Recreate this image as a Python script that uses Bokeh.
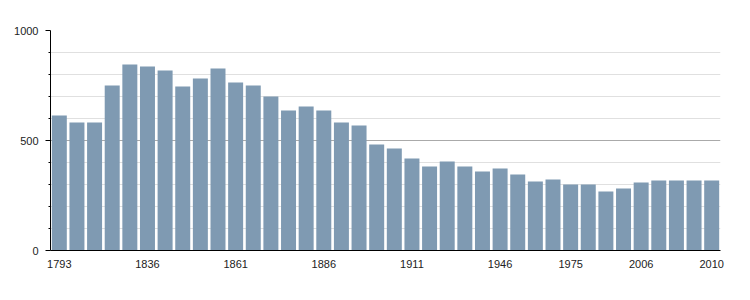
from bokeh.plotting import figure
from bokeh.models import Range1d, FixedTicker, ColumnDataSource
from bokeh.embed import file_html
from bokeh.resources import INLINE

years = [1793, 1800, 1806, 1821, 1831, 1836, 1841, 1846, 1851, 1856,
         1861, 1866, 1872, 1876, 1881, 1886, 1891, 1896, 1901, 1906,
         1911, 1921, 1926, 1931, 1936, 1946, 1954, 1962, 1968, 1975,
         1982, 1990, 1999, 2006, 2007, 2008, 2009, 2010]
population = [614, 582, 582, 750, 845, 836, 818, 745, 782, 827,
              764, 750, 700, 636, 655, 636, 582, 568, 482, 464,
              418, 382, 405, 382, 359, 373, 345, 314, 323, 300,
              300, 268, 282, 309, 318, 318, 318, 318]
labelled_years = [1793, 1836, 1861, 1886, 1911, 1946, 1975, 2006, 2010]
y_major = [0, 500, 1000]
y_minor = [100, 200, 300, 400, 600, 700, 800, 900]

idx = list(range(len(years)))
src = ColumnDataSource(data=dict(x=idx, pop=population, year=[str(y) for y in years]))

p = figure(width=750, height=300, output_backend="svg", toolbar_location=None,
           x_range=Range1d(-0.5, len(years) - 0.5), y_range=Range1d(0, 1000),
           min_border_left=50, min_border_right=30, min_border_top=30, min_border_bottom=50)
p.outline_line_color = None
p.background_fill_color = "white"
p.border_fill_color = "white"

p.vbar(x="x", top="pop", width=0.85, bottom=0, source=src,
       fill_color="#7f9ab2", line_color=None)

font = "Liberation Sans"

# x axis
tick_pos = [years.index(y) for y in labelled_years]
p.xaxis.ticker = FixedTicker(ticks=tick_pos)
p.xaxis.major_label_overrides = {i: str(years[i]) for i in tick_pos}
p.xaxis.major_tick_line_color = None
p.xaxis.minor_tick_line_color = None
p.xaxis.axis_line_color = "black"
p.xaxis.major_label_text_font = font
p.xaxis.major_label_text_font_size = "11px"
p.xaxis.major_label_text_color = "#222222"
p.xaxis.major_label_standoff = 3
p.xgrid.grid_line_color = None

# y axis
p.yaxis.ticker = FixedTicker(ticks=y_major, minor_ticks=y_minor)
p.yaxis.axis_line_color = "black"
p.yaxis.major_tick_out = 5
p.yaxis.major_tick_in = 0
p.yaxis.minor_tick_out = 2
p.yaxis.minor_tick_in = 0
p.yaxis.major_tick_line_color = "black"
p.yaxis.minor_tick_line_color = "black"
p.yaxis.major_label_text_font = font
p.yaxis.major_label_text_font_size = "11px"
p.yaxis.major_label_text_color = "#222222"
p.yaxis.major_label_standoff = 7
p.ygrid.grid_line_color = "#aaaaaa"
p.ygrid.minor_grid_line_color = "#e0e0e0"

open("out.html", "w").write(file_html(p, INLINE))
